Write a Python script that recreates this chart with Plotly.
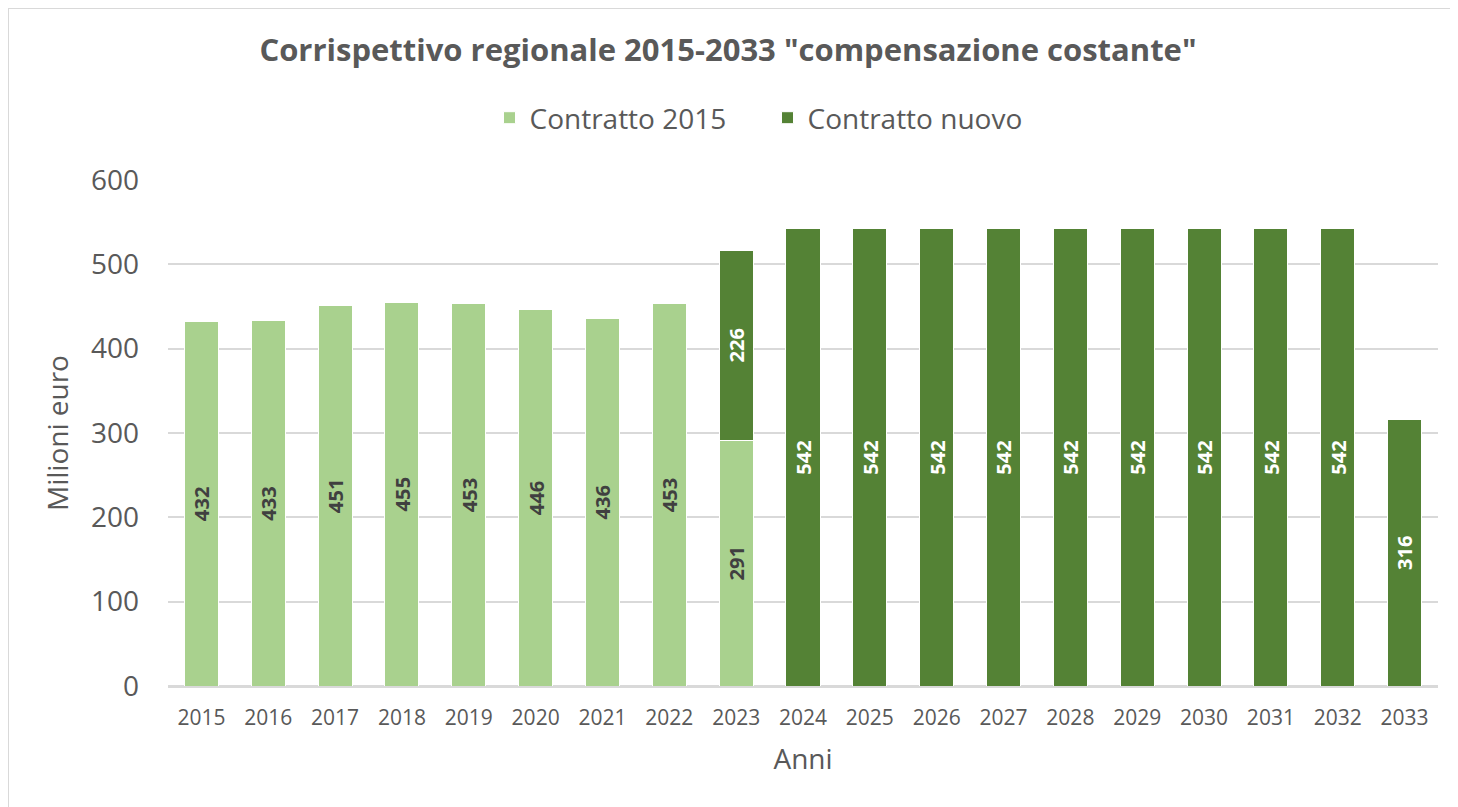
import plotly.graph_objects as go

anni = [str(y) for y in range(2015, 2034)]
contratto_2015 = [432, 433, 451, 455, 453, 446, 436, 453, 291] + [None] * 10
contratto_nuovo = [None] * 8 + [226] + [542] * 9 + [316]

FONT = "Open Sans, sans-serif"
W, H = 1450, 799
L, R, T, B = 160, 20, 172, 121
pw, ph = W - L - R, H - T - B
GREY = "#595959"

def lab(vals):
    return ["" if v is None else str(v) for v in vals]

fig = go.Figure()
fig.add_trace(go.Bar(
    x=anni, y=contratto_2015, name="Contratto 2015",
    marker=dict(color="#a9d18e", line=dict(color="white", width=1)),
    text=lab(contratto_2015), textposition="inside", insidetextanchor="middle",
    textangle=-90, textfont=dict(family=FONT, size=23, color="#404040", weight="bold"),
    hoverinfo="skip",
))
fig.add_trace(go.Bar(
    x=anni, y=contratto_nuovo, name="Contratto nuovo",
    marker=dict(color="#548235", line=dict(color="white", width=1)),
    text=lab(contratto_nuovo), textposition="inside", insidetextanchor="middle",
    textangle=-90, textfont=dict(family=FONT, size=23, color="white", weight="bold"),
    hoverinfo="skip",
))

fig.update_layout(
    barmode="stack", bargap=0.49,
    width=W, height=H, autosize=False,
    margin=dict(l=L, r=R, t=T, b=B),
    paper_bgcolor="white", plot_bgcolor="white",
    uniformtext=dict(minsize=8, mode="show"),
    title=dict(text='<b>Corrispettivo regionale 2015-2033 "compensazione costante"</b>',
               x=(720 - L) / pw, xref="paper", xanchor="center", y=1 - 42 / H, yanchor="middle",
               font=dict(family=FONT, size=31, color=GREY)),
    legend=dict(orientation="h", x=(759.5 - L) / pw, xanchor="center", y=1 + (T - 110) / ph, yanchor="middle",
                font=dict(family=FONT, size=28, color=GREY), traceorder="normal",
                itemwidth=30, entrywidth=233, entrywidthmode="pixels"),
    font=dict(family=FONT, color=GREY),
    xaxis=dict(title=dict(text="Anni", font=dict(size=28, color=GREY), standoff=19),
               tickfont=dict(size=21, color=GREY), showgrid=False,
               showline=True, linecolor="#d9d9d9", linewidth=2, ticks="",
               ticklabelstandoff=12),
    yaxis=dict(title=dict(text="Milioni euro", font=dict(size=28, color=GREY), standoff=14),
               range=[0, 600], dtick=100, tickfont=dict(size=28, color=GREY),
               gridcolor="#d9d9d9", gridwidth=1.5, zeroline=True, zerolinecolor="#d9d9d9",
               zerolinewidth=2, ticks="", ticklabelstandoff=28),
    shapes=[
        dict(type="line", xref="paper", yref="paper",
             x0=(1 - L) / pw, x1=(W + 5 - L) / pw, y0=1 + (T - 0) / ph, y1=1 + (T - 0) / ph,
             line=dict(color="#d9d9d9", width=2), layer="below"),
        dict(type="line", xref="paper", yref="paper",
             x0=(0 - L) / pw, x1=(0 - L) / pw, y0=1 + (T - 0) / ph, y1=-(B + 5) / ph,
             line=dict(color="#d9d9d9", width=2), layer="below"),
    ],
)

fig.write_html("out.html")
